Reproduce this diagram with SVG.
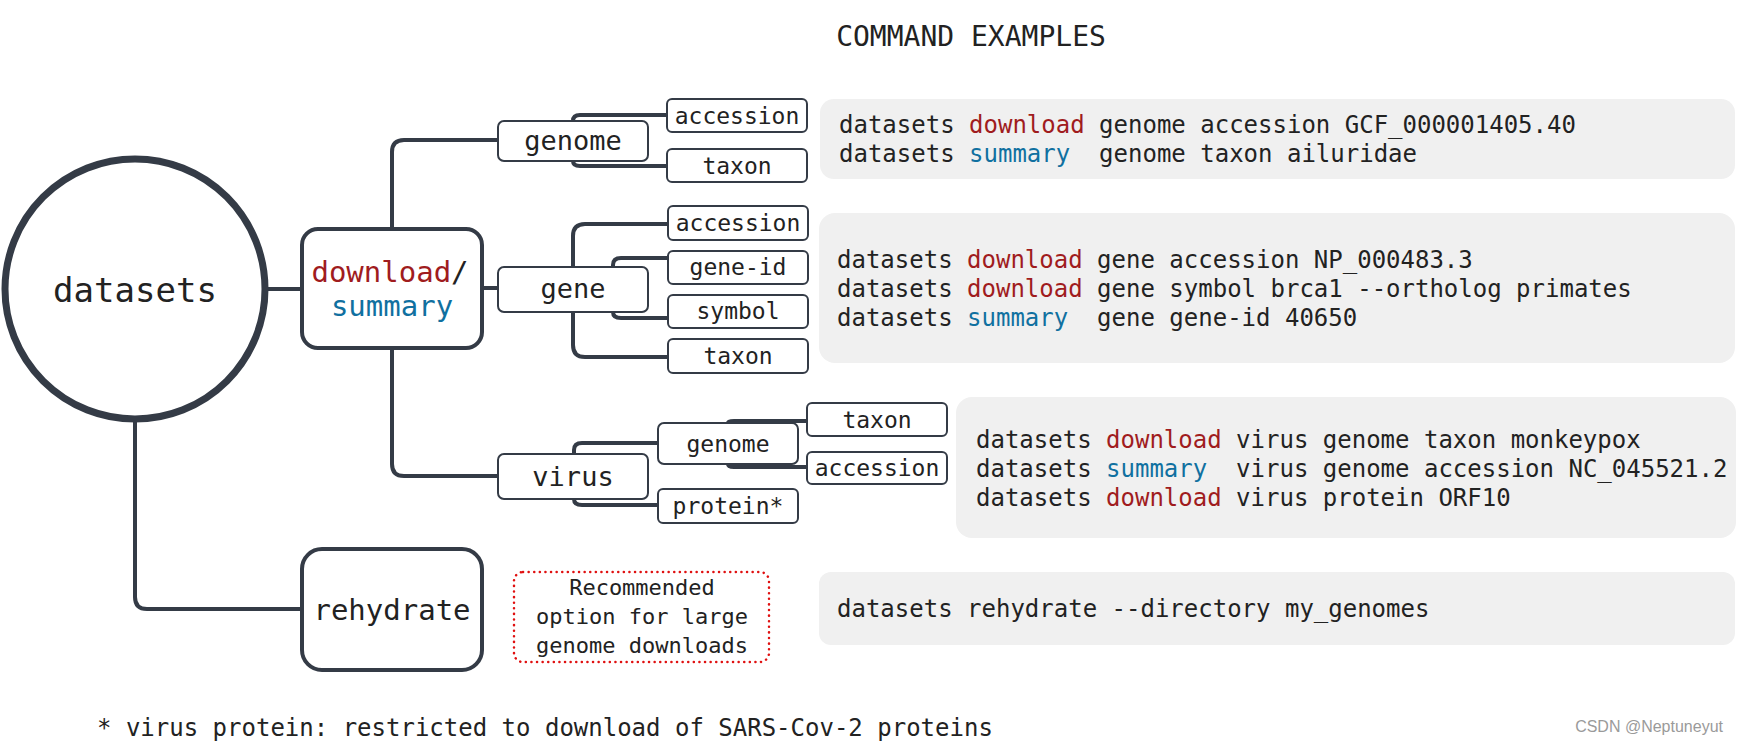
<svg xmlns="http://www.w3.org/2000/svg" width="1737" height="744" viewBox="0 0 1737 744">
<style>
text{font-family:"DejaVu Sans Mono","Liberation Mono",monospace;fill:#222;}
.c{text-anchor:middle;}
.big{stroke:#343b46;stroke-width:4;fill:#fff;}
.sm{stroke:#343b46;stroke-width:2;fill:#fff;}
.ln{stroke:#343b46;stroke-width:4;fill:none;}
.panel{fill:#f0f0f0;}
.code{font-size:24px;white-space:pre;}
.dl{fill:#a01c1e;}
.su{fill:#1070a0;}
.leaf{font-size:23px;}
.mid{font-size:27px;}
</style>
<rect width="1737" height="744" fill="#fff"/>
<text x="971" y="46" class="c" font-size="28">COMMAND EXAMPLES</text>

<g id="connectors">
  <path class="ln" d="M268 289 H302"/>
  <path class="ln" d="M392 228 V152 Q392 140 404 140 H498"/>
  <path class="ln" d="M482 288 H498"/>
  <path class="ln" d="M392 348 V464 Q392 476 404 476 H498"/>
  <path class="ln" d="M135 420 V597 Q135 609 147 609 H301"/>
  <path class="ln" d="M573 121 Q573 115 580 115 H667"/>
  <path class="ln" d="M573 161 Q573 166 580 166 H667"/>
  <path class="ln" d="M573 267 V236 Q573 224 585 224 H668"/>
  <path class="ln" d="M573 312 V345 Q573 357 585 357 H668"/>
  <path class="ln" d="M613 267 V265 Q613 258 621 258 H668"/>
  <path class="ln" d="M613 312 V312 Q613 318 621 318 H668"/>
  <path class="ln" d="M574 454 V450 Q574 443 582 443 H658"/>
  <path class="ln" d="M574 499 Q574 505 582 505 H658"/>
  <path class="ln" d="M728 423 Q728 421 734 421 H807"/>
  <path class="ln" d="M728 464 Q728 467 734 467 H807"/>
</g>

<g id="datasets">
  <circle cx="135" cy="289" r="130" fill="#fff" stroke="#343b46" stroke-width="7"/>
  <text x="135" y="302" class="c" font-size="34">datasets</text>
</g>

<g id="download-summary">
  <rect class="big" x="302" y="229" width="180" height="119" rx="16"/>
  <text x="390" y="282" class="c" font-size="29"><tspan class="dl">download</tspan>/</text>
  <text x="392" y="316" class="c su" font-size="29">summary</text>
</g>

<g id="genome">
  <rect class="sm" x="498" y="121" width="150" height="40" rx="6"/>
  <text x="573" y="150" class="c mid">genome</text>
</g>
<g id="genome-accession">
  <rect class="sm" x="667" y="99" width="140" height="33" rx="5"/>
  <text x="737" y="124" class="c leaf">accession</text>
</g>
<g id="genome-taxon">
  <rect class="sm" x="667" y="149" width="140" height="33" rx="5"/>
  <text x="737" y="174" class="c leaf">taxon</text>
</g>

<g id="gene">
  <rect class="sm" x="498" y="267" width="150" height="45" rx="6"/>
  <text x="573" y="298" class="c mid">gene</text>
</g>
<g id="gene-accession">
  <rect class="sm" x="668" y="206" width="140" height="34" rx="5"/>
  <text x="738" y="231" class="c leaf">accession</text>
</g>
<g id="gene-geneid">
  <rect class="sm" x="668" y="251" width="140" height="33" rx="5"/>
  <text x="738" y="275" class="c leaf">gene-id</text>
</g>
<g id="gene-symbol">
  <rect class="sm" x="668" y="295" width="140" height="33" rx="5"/>
  <text x="738" y="319" class="c leaf">symbol</text>
</g>
<g id="gene-taxon">
  <rect class="sm" x="668" y="339" width="140" height="34" rx="5"/>
  <text x="738" y="364" class="c leaf">taxon</text>
</g>

<g id="virus">
  <rect class="sm" x="498" y="454" width="150" height="45" rx="6"/>
  <text x="573" y="486" class="c mid">virus</text>
</g>
<g id="virus-genome">
  <rect class="sm" x="658" y="423" width="140" height="41" rx="6"/>
  <text x="728" y="452" class="c leaf">genome</text>
</g>
<g id="virus-protein">
  <rect class="sm" x="658" y="489" width="140" height="34" rx="5"/>
  <text x="728" y="514" class="c leaf">protein*</text>
</g>
<g id="virus-taxon">
  <rect class="sm" x="807" y="403" width="140" height="33" rx="5"/>
  <text x="877" y="428" class="c leaf">taxon</text>
</g>
<g id="virus-accession">
  <rect class="sm" x="807" y="452" width="140" height="32" rx="5"/>
  <text x="877" y="476" class="c leaf">accession</text>
</g>

<g id="rehydrate">
  <rect class="big" x="302" y="549" width="180" height="121" rx="20"/>
  <text x="392" y="620" class="c" font-size="29">rehydrate</text>
</g>

<g id="note">
  <rect x="514" y="572" width="255" height="90" rx="9" fill="none" stroke="#e01010" stroke-width="2.5" stroke-dasharray="0.1 5.5" stroke-linecap="round"/>
  <text x="642" y="595" class="c" font-size="22">Recommended</text>
  <text x="642" y="624" class="c" font-size="22">option for large</text>
  <text x="642" y="653" class="c" font-size="22">genome downloads</text>
</g>

<g id="panel-genome">
  <rect class="panel" x="820" y="99" width="915" height="80" rx="14"/>
  <text x="839" y="133" class="code">datasets <tspan class="dl">download</tspan> genome accession GCF_000001405.40</text>
  <text x="839" y="162" class="code">datasets <tspan class="su">summary</tspan>  genome taxon ailuridae</text>
</g>
<g id="panel-gene">
  <rect class="panel" x="819" y="213" width="916" height="150" rx="16"/>
  <text x="837" y="268" class="code">datasets <tspan class="dl">download</tspan> gene accession NP_000483.3</text>
  <text x="837" y="297" class="code">datasets <tspan class="dl">download</tspan> gene symbol brca1 --ortholog primates</text>
  <text x="837" y="326" class="code">datasets <tspan class="su">summary</tspan>  gene gene-id 40650</text>
</g>
<g id="panel-virus">
  <rect class="panel" x="956" y="397" width="780" height="141" rx="16"/>
  <text x="976" y="448" class="code">datasets <tspan class="dl">download</tspan> virus genome taxon monkeypox</text>
  <text x="976" y="477" class="code">datasets <tspan class="su">summary</tspan>  virus genome accession NC_045521.2</text>
  <text x="976" y="506" class="code">datasets <tspan class="dl">download</tspan> virus protein ORF10</text>
</g>
<g id="panel-rehydrate">
  <rect class="panel" x="819" y="572" width="916" height="73" rx="12"/>
  <text x="837" y="617" class="code">datasets rehydrate --directory my_genomes</text>
</g>

<text x="97" y="736" class="code">* virus protein: restricted to download of SARS-Cov-2 proteins</text>
<text x="1723" y="732" text-anchor="end" style="font-family:'Liberation Sans',Arial,sans-serif;fill:#9a9a9a" font-size="16">CSDN @Neptuneyut</text>
</svg>
